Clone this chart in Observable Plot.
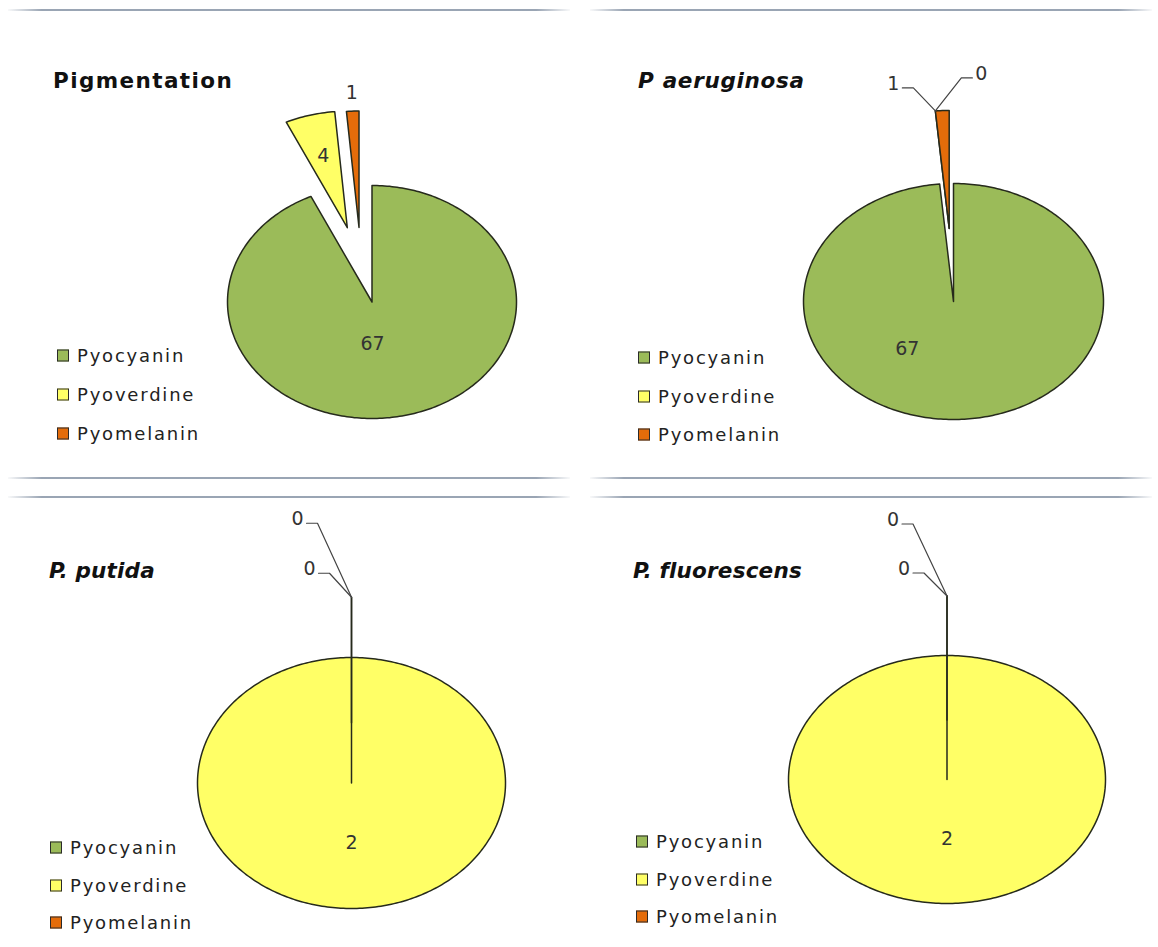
<!DOCTYPE html>
<html><head><meta charset="utf-8">
<script src="https://cdn.jsdelivr.net/npm/d3@7"></script>
<script src="https://cdn.jsdelivr.net/npm/@observablehq/plot@0.6"></script>
<style>
body{margin:0;background:#fff;font-family:"DejaVu Sans",Verdana,sans-serif;}
#root{position:relative;width:1158px;height:947px;overflow:hidden;background:#fff}
.panel{position:absolute;}
.panel svg{position:absolute;left:0;top:0;overflow:visible}
.title{position:absolute;font-weight:bold;font-size:21.5px;color:#111;white-space:nowrap;transform:translateY(-50%)}
.legend-item{position:absolute;font-size:18px;letter-spacing:1.8px;color:#222;white-space:nowrap;display:flex;align-items:center;transform:translateY(-50%)}
.sw{width:10px;height:10px;border:1px solid #2a2a2a;margin-right:8px;flex:none}
.rule{position:absolute;height:2px;background:linear-gradient(to right, rgba(120,135,155,0.05), rgba(120,135,155,0.75) 6%, rgba(120,135,155,0.75) 94%, rgba(120,135,155,0.05))}
</style></head><body><div id="root"></div>
<script>
// ---- data ----
const pigments = ["Pyocyanin", "Pyoverdine", "Pyomelanin"];
const panelTitles = ["Pigmentation", "P aeruginosa", "P. putida", "P. fluorescens"];
const pigmentationValues = [67, 4, 1];
const aeruginosaValues = [67, 0, 1];
const putidaValues = [0, 2, 0];
const fluorescensValues = [0, 2, 0];

// ---- styles / layout ----
const pigmentColors = ["#9BBB59", "#FFFF66", "#E46C0A"];
const panels = [
  {title: panelTitles[0], values: pigmentationValues, italic: false, titleSpacing: 1.4,
   left: 0, top: 0, width: 578, height: 478,
   cx: 371.5, cy: 301.5, rx: 144.5, ry: 116.5, titleX: 53, titleY: 80,
   legendX: 57, legendY: [355, 394, 433],
   explode: [0, 0.66, 0.646], explodeAngle: [null, null, 352],
   labels: [{mode: "in", r: 0.37, dx: -11, dy: 0}, {mode: "in", r: 0.64}, {mode: "in", r: 1.16}]},
  {title: panelTitles[1], values: aeruginosaValues, italic: true, titleSpacing: 0.7,
   left: 580, top: 0, width: 578, height: 478,
   cx: 953, cy: 301, rx: 150, ry: 118, titleX: 638, titleY: 80,
   legendX: 638, legendY: [357, 396, 434],
   explode: [0, 0.62, 0.62], explodeAngle: [null, 357.35, null],
   labels: [{mode: "in", r: 0.4, dx: -49}, {mode: "leader", dx: 46, dy: -37}, {mode: "leader", dx: -42, dy: -27}]},
  {title: panelTitles[2], values: putidaValues, italic: true, titleSpacing: 0.2,
   left: 0, top: 488, width: 578, height: 459,
   cx: 351, cy: 782.5, rx: 154, ry: 125.5, titleX: 49, titleY: 570,
   legendX: 50, legendY: [847, 885, 922],
   explode: [0.48, 0, 0.48], explodeAngle: [null, null, null],
   labels: [{mode: "leader", dx: -54, dy: -78}, {mode: "in", r: 0.48}, {mode: "leader", dx: -42, dy: -28}]},
  {title: panelTitles[3], values: fluorescensValues, italic: true, titleSpacing: 0.2,
   left: 580, top: 488, width: 578, height: 459,
   cx: 946.5, cy: 779, rx: 158.5, ry: 124, titleX: 633, titleY: 570,
   legendX: 636, legendY: [841, 879, 916],
   explode: [0.48, 0, 0.48], explodeAngle: [null, null, null],
   labels: [{mode: "leader", dx: -54, dy: -76}, {mode: "in", r: 0.48}, {mode: "leader", dx: -43, dy: -27}]}
];
const rules = [
  {x0: 8, x1: 570, y: 10}, {x0: 590, x1: 1152, y: 10},
  {x0: 8, x1: 570, y: 478}, {x0: 590, x1: 1152, y: 478},
  {x0: 8, x1: 570, y: 497}, {x0: 590, x1: 1152, y: 497}
];

const rad = d => d * Math.PI / 180;

function buildSlices(p) {
  const total = d3.sum(p.values);
  let acc = 0;
  return p.values.map((v, i) => {
    const a0 = acc / total * 360; acc += v; const a1 = acc / total * 360;
    const mid = (a0 + a1) / 2;
    const ea = p.explodeAngle[i] ?? mid;
    const e = p.explode[i] || 0;
    return {i, name: pigments[i], value: v, a0, a1, mid,
            ox: e * Math.sin(rad(ea)), oy: e * Math.cos(rad(ea))};
  });
}

const root = document.getElementById("root");
for (const r of rules) {
  const d = document.createElement("div");
  d.className = "rule";
  Object.assign(d.style, {left: r.x0 + "px", top: (r.y - 1) + "px", width: (r.x1 - r.x0) + "px"});
  root.appendChild(d);
}

for (const p of panels) {
  const sl = buildSlices(p);
  const pts = [];
  for (const s of sl) {
    pts.push({key: s.i, name: s.name, u: s.ox, v: s.oy});
    const n = Math.max(2, Math.ceil((s.a1 - s.a0) / 1));
    for (let k = 0; k <= n; k++) {
      const a = s.a0 + (s.a1 - s.a0) * k / n;
      pts.push({key: s.i, name: s.name, u: s.ox + Math.sin(rad(a)), v: s.oy + Math.cos(rad(a))});
    }
  }
  const labels = [], leaders = [];
  sl.forEach((s, i) => {
    const L = p.labels[i];
    if (!L) return;
    if (L.mode === "in") {
      let u = s.ox + L.r * Math.sin(rad(s.mid)), v = s.oy + L.r * Math.cos(rad(s.mid));
      u += (L.dx || 0) / p.rx; v -= (L.dy || 0) / p.ry;
      labels.push({u, v, text: String(s.value)});
    } else {
      const au = s.ox + Math.sin(rad(s.a0)), av = s.oy + Math.cos(rad(s.a0));
      const lu = au + L.dx / p.rx, lv = av - L.dy / p.ry;
      labels.push({u: lu, v: lv, text: String(s.value)});
      const side = L.dx < 0 ? 1 : -1;
      const yl = lv - 4 / p.ry;
      leaders.push({id: i, u: lu + side * 9 / p.rx, v: yl});
      leaders.push({id: i, u: lu + side * 20 / p.rx, v: yl});
      leaders.push({id: i, u: au, v: av});
    }
  });

  const div = document.createElement("div");
  div.className = "panel";
  Object.assign(div.style, {left: p.left + "px", top: p.top + "px", width: p.width + "px", height: p.height + "px"});
  root.appendChild(div);

  const chart = Plot.plot({
    width: p.width, height: p.height, margin: 0,
    x: {domain: [-1, 1], range: [p.cx - p.rx - p.left, p.cx + p.rx - p.left], axis: null},
    y: {domain: [-1, 1], range: [p.cy + p.ry - p.top, p.cy - p.ry - p.top], axis: null},
    color: {domain: pigments, range: pigmentColors},
    style: {fontFamily: "DejaVu Sans, sans-serif", background: "transparent", overflow: "visible"},
    marks: [
      Plot.line(pts, {x: "u", y: "v", z: "key", fill: "name", stroke: "#262a1c", strokeWidth: 1.5, curve: "linear-closed", strokeLinejoin: "round"}),
      Plot.line(leaders, {x: "u", y: "v", z: "id", stroke: "#444", strokeWidth: 1.2}),
      Plot.text(labels, {x: "u", y: "v", text: "text", fontSize: 19, fill: "#333"})
    ]
  });
  div.appendChild(chart);

  const t = document.createElement("div");
  t.className = "title";
  t.textContent = p.title;
  Object.assign(t.style, {left: (p.titleX - p.left) + "px", top: (p.titleY - p.top) + "px",
    fontStyle: p.italic ? "italic" : "normal", letterSpacing: p.titleSpacing + "px"});
  div.appendChild(t);

  pigments.forEach((name, i) => {
    const it = document.createElement("div");
    it.className = "legend-item";
    Object.assign(it.style, {left: (p.legendX - p.left) + "px", top: (p.legendY[i] - p.top) + "px"});
    const sw = document.createElement("span");
    sw.className = "sw";
    sw.style.background = pigmentColors[i];
    it.appendChild(sw);
    it.appendChild(document.createTextNode(name));
    div.appendChild(it);
  });
}
</script></body></html>
